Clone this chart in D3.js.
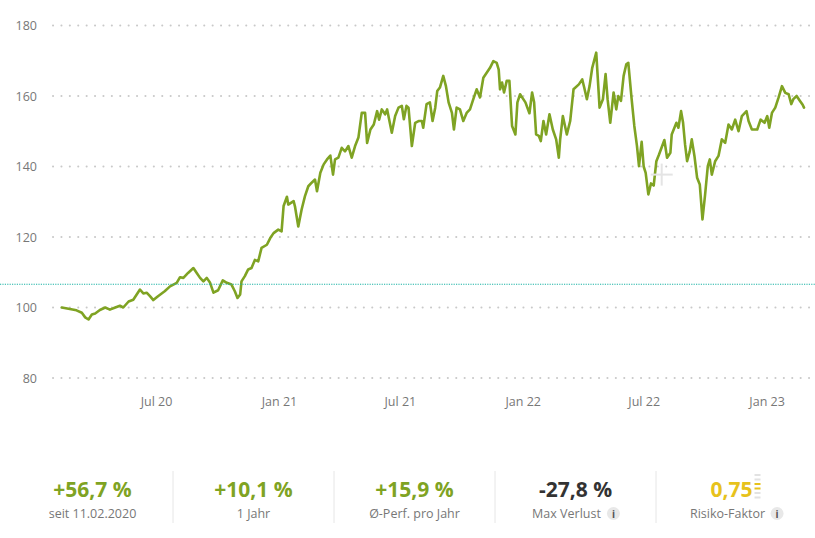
<!DOCTYPE html>
<html>
<head>
<meta charset="utf-8">
<script src="https://cdn.jsdelivr.net/npm/d3@7"></script>
<style>
  html, body { margin: 0; padding: 0; background: #fff; }
  svg { display: block; font-family: "Open Sans", "Noto Sans", sans-serif; }
</style>
</head>
<body>
<svg id="chart" width="815" height="538"></svg>
<script>
// ---------- data ----------
const dates = [
"2020-02-11","2020-03-04","2020-03-12","2020-03-17","2020-03-22","2020-03-27","2020-04-01","2020-04-08","2020-04-16","2020-04-23",
"2020-05-01","2020-05-08","2020-05-13","2020-05-21","2020-05-28","2020-06-07","2020-06-12","2020-06-17","2020-06-22","2020-06-27",
"2020-07-04","2020-07-14","2020-07-22","2020-08-01","2020-08-06","2020-08-11","2020-08-18","2020-08-26","2020-08-31","2020-09-05",
"2020-09-10","2020-09-15","2020-09-20","2020-09-25","2020-10-02","2020-10-09","2020-10-15","2020-10-22","2020-10-27","2020-10-31",
"2020-11-04","2020-11-06","2020-11-11","2020-11-16","2020-11-21","2020-11-26","2020-12-01","2020-12-06","2020-12-14","2020-12-19",
"2020-12-24","2020-12-31","2021-01-05","2021-01-08","2021-01-13","2021-01-15","2021-01-23","2021-01-25","2021-01-30","2021-02-04",
"2021-02-09","2021-02-14","2021-02-19","2021-02-24","2021-02-27","2021-03-04","2021-03-09","2021-03-14","2021-03-19","2021-03-23",
"2021-03-26","2021-03-31","2021-04-05","2021-04-10","2021-04-15","2021-04-20","2021-04-25","2021-04-30","2021-05-05","2021-05-10",
"2021-05-13","2021-05-18","2021-05-23","2021-05-28","2021-05-31","2021-06-04","2021-06-09","2021-06-12","2021-06-19","2021-06-24",
"2021-06-29","2021-07-04","2021-07-07","2021-07-11","2021-07-14","2021-07-19","2021-07-24","2021-07-29","2021-08-03","2021-08-05",
"2021-08-10","2021-08-15","2021-08-19","2021-08-23","2021-08-26","2021-08-30","2021-09-04","2021-09-08","2021-09-12","2021-09-17",
"2021-09-20","2021-09-24","2021-09-29","2021-10-04","2021-10-09","2021-10-14","2021-10-19","2021-10-24","2021-10-29","2021-11-03",
"2021-11-08","2021-11-13","2021-11-18","2021-11-23","2021-11-26","2021-11-28","2021-12-01","2021-12-04","2021-12-08","2021-12-12",
"2021-12-16","2021-12-21","2021-12-24","2021-12-28","2022-01-05","2022-01-11","2022-01-15","2022-01-18","2022-01-21","2022-01-25",
"2022-01-28","2022-02-01","2022-02-05","2022-02-10","2022-02-15","2022-02-20","2022-02-24","2022-02-26","2022-03-02","2022-03-08",
"2022-03-13","2022-03-18","2022-03-26","2022-03-31","2022-04-03","2022-04-07","2022-04-11","2022-04-15","2022-04-21","2022-04-26",
"2022-05-01","2022-05-05","2022-05-08","2022-05-12","2022-05-17","2022-05-21","2022-05-24","2022-05-28","2022-06-01","2022-06-05",
"2022-06-08","2022-06-13","2022-06-17","2022-06-21","2022-06-24","2022-06-28","2022-07-01","2022-07-04","2022-07-08","2022-07-12",
"2022-07-16","2022-07-20","2022-07-24","2022-08-01","2022-08-05","2022-08-10","2022-08-12","2022-08-19","2022-08-22","2022-08-26",
"2022-08-29","2022-09-01","2022-09-04","2022-09-08","2022-09-11","2022-09-15","2022-09-19","2022-09-23","2022-09-27","2022-10-01",
"2022-10-05","2022-10-08","2022-10-11","2022-10-16","2022-10-21","2022-10-26","2022-10-31","2022-11-05","2022-11-10","2022-11-15",
"2022-11-20","2022-11-25","2022-12-02","2022-12-05","2022-12-10","2022-12-18","2022-12-23","2022-12-29","2023-01-02","2023-01-05",
"2023-01-09","2023-01-14","2023-01-19","2023-01-24","2023-01-29","2023-02-03","2023-02-07","2023-02-10","2023-02-15","2023-02-20",
"2023-02-24","2023-02-26"
];
const values = [
100.0,99.2,98.5,97.2,96.6,98.0,98.3,99.3,100.0,99.4,
100.0,100.5,100.0,101.7,102.2,105.1,104.0,104.2,103.2,102.1,
103.2,104.6,106.0,107.0,108.6,108.4,109.8,111.2,109.8,108.4,
107.4,108.4,107.0,104.2,104.9,107.7,107.0,106.5,104.6,102.7,
103.7,107.4,108.9,110.8,111.2,113.5,113.1,116.9,117.8,119.7,
121.1,122.1,121.6,128.8,131.4,129.2,130.2,128.7,123.0,127.8,
131.6,134.4,135.4,136.3,133.0,138.2,140.6,142.0,143.1,137.7,
142.0,142.5,145.3,144.3,145.8,142.5,145.8,148.2,155.2,155.2,
146.7,150.5,151.9,155.7,153.3,156.2,154.8,156.2,149.6,154.3,
156.7,157.2,153.4,157.2,156.7,145.8,152.4,152.9,152.9,151.0,
157.7,158.2,152.9,156.7,161.4,162.4,165.7,162.8,158.2,155.2,
150.5,156.7,156.2,152.9,155.2,156.2,159.1,161.9,159.6,165.2,
166.6,168.0,169.9,169.4,167.5,161.9,163.8,161.0,164.3,164.3,
151.5,149.1,158.2,160.5,158.2,155.1,161.0,158.2,149.1,148.7,
147.2,152.9,149.1,154.8,150.5,147.7,142.5,147.7,154.3,149.1,
152.9,161.9,163.3,164.7,162.4,159.1,162.8,168.0,172.3,156.7,
159.1,166.2,159.1,152.4,161.0,156.2,160.0,158.6,165.7,169.0,
169.4,159.1,151.5,145.8,140.1,147.0,140.0,138.2,132.1,135.2,
134.6,141.5,143.4,147.5,142.5,143.9,149.1,152.4,151.0,155.7,
152.4,146.2,141.5,144.3,147.7,143.0,136.8,134.9,125.0,132.1,
140.1,142.0,137.7,141.5,143.0,147.7,146.7,151.9,150.5,153.3,
150.0,154.3,155.7,152.9,150.5,150.5,153.3,152.4,154.3,151.0,
155.2,156.7,159.6,162.8,160.9,160.5,157.7,159.1,160.0,158.6,
157.5,156.7
];
const yTicks = [80, 100, 120, 140, 160, 180];
const xTickDates = ["2020-07-01","2021-01-01","2021-07-01","2022-01-01","2022-07-01","2023-01-01"];
const xTickLabels = ["Jul 20","Jan 21","Jul 21","Jan 22","Jul 22","Jan 23"];
const markerValue = 106.6; // cyan dotted reference line

const statValues = ["+56,7 %", "+10,1 %", "+15,9 %", "-27,8 %", "0,75"];
const statLabels = ["seit 11.02.2020", "1 Jahr", "Ø-Perf. pro Jahr", "Max Verlust", "Risiko-Faktor"];
const statKinds  = ["pos", "pos", "pos", "neg", "risk"];
const statInfo   = [false, false, false, true, true];
const riskLevels = [0, 0, 1, 1, 0, 0]; // bars of the risk gauge, top to bottom

// ---------- setup ----------
const svg = d3.select("#chart");
const parse = d3.utcParse("%Y-%m-%d");
const data = dates.map((d, i) => ({ date: parse(d), value: values[i] }));

const x = d3.scaleUtc()
  .domain([parse("2020-02-11"), parse("2023-02-26")])
  .range([61.8, 804]);
const y = d3.scaleLinear().domain([80, 180]).range([378, 25.5]);

const GREEN = "#7fa323";
const GRID_L = 53, GRID_R = 810;

// grid lines
svg.append("g").selectAll("line").data(yTicks).join("line")
  .attr("x1", GRID_L).attr("x2", GRID_R)
  .attr("y1", d => y(d)).attr("y2", d => y(d))
  .attr("stroke", "#c9c9c9").attr("stroke-width", 2)
  .attr("stroke-linecap", "round")
  .attr("stroke-dasharray", "0.1,8.3");

// y axis labels
const yAxis = d3.axisLeft(y).tickValues(yTicks).tickSize(0).tickPadding(0);
const gy = svg.append("g").attr("transform", "translate(37,0)").call(yAxis);
gy.select(".domain").remove();
gy.selectAll("text").attr("font-size", 12.5).attr("fill", "#777")
  .attr("font-family", "'Open Sans', sans-serif").attr("dy", "0.34em");

// x axis labels
const xAxis = d3.axisBottom(x)
  .tickValues(xTickDates.map(parse))
  .tickFormat((d, i) => xTickLabels[i])
  .tickSize(0).tickPadding(0);
const gx = svg.append("g").attr("transform", "translate(0,402)").call(xAxis);
gx.select(".domain").remove();
gx.selectAll("text").attr("font-size", 12.5).attr("fill", "#777")
  .attr("font-family", "'Open Sans', sans-serif").attr("dy", "0.34em");

// line
const line = d3.line().x(d => x(d.date)).y(d => y(d.value)).curve(d3.curveLinear);
svg.append("path").datum(data)
  .attr("d", line)
  .attr("fill", "none")
  .attr("stroke", GREEN)
  .attr("stroke-width", 2.6)
  .attr("stroke-linejoin", "round")
  .attr("stroke-linecap", "round");

// faint cursor cross
const cx = x(parse("2022-07-28")), cy = y(137.7);
svg.append("g").attr("stroke", "#e4e4e4").attr("stroke-width", 2)
  .selectAll("line").data([[-11, 0, 11, 0], [0, -11, 0, 11]]).join("line")
  .attr("x1", d => cx + d[0]).attr("y1", d => cy + d[1])
  .attr("x2", d => cx + d[2]).attr("y2", d => cy + d[3]);

// cyan dotted reference line
svg.append("line")
  .attr("x1", 0).attr("x2", 815)
  .attr("y1", y(markerValue)).attr("y2", y(markerValue))
  .attr("stroke", "#1bb3a5").attr("stroke-width", 1.2)
  .attr("stroke-dasharray", "1.2,1.2");

// ---------- stats row ----------
const colX = d3.scaleBand().domain(d3.range(statValues.length)).range([12, 817]);
const stats = svg.append("g");
// separators
stats.selectAll("line.sep").data(d3.range(1, statValues.length)).join("line")
  .attr("class", "sep")
  .attr("x1", i => colX(i)).attr("x2", i => colX(i))
  .attr("y1", 471).attr("y2", 523)
  .attr("stroke", "#e6e6e6").attr("stroke-width", 1);

const colorFor = k => k === "pos" ? GREEN : k === "neg" ? "#333333" : "#e7c21c";

statValues.forEach((v, i) => {
  const center = colX(i) + colX.bandwidth() / 2;
  const g = stats.append("g");
  const hasGauge = statKinds[i] === "risk";
  const vt = g.append("text")
    .attr("x", center - (hasGauge ? 5 : 0)).attr("y", 496.5)
    .attr("text-anchor", "middle")
    .attr("font-size", 21).attr("font-weight", 700)
    .attr("fill", colorFor(statKinds[i]))
    .text(v);
  if (hasGauge) {
    const bb = vt.node().getBBox();
    const gx0 = bb.x + bb.width + 2;
    g.selectAll("rect").data(riskLevels).join("rect")
      .attr("x", gx0).attr("y", (d, j) => 474 + j * 4.5)
      .attr("width", 6).attr("height", 2)
      .attr("fill", d => d ? "#e7c21c" : "#e2e2e2");
  }
  const lt = g.append("text")
    .attr("x", center - (statInfo[i] ? 9 : 0)).attr("y", 518)
    .attr("text-anchor", "middle")
    .attr("font-size", 12.5).attr("fill", "#777")
    .text(statLabels[i]);
  if (statInfo[i]) {
    const bb = lt.node().getBBox();
    const ix = bb.x + bb.width + 12;
    g.append("circle").attr("cx", ix).attr("cy", 513.5).attr("r", 6.5).attr("fill", "#e8e8e8");
    g.append("text").attr("x", ix).attr("y", 517.5).attr("text-anchor", "middle")
      .attr("font-size", 10).attr("font-weight", 700).attr("fill", "#555").text("i");
  }
});
</script>
</body>
</html>
